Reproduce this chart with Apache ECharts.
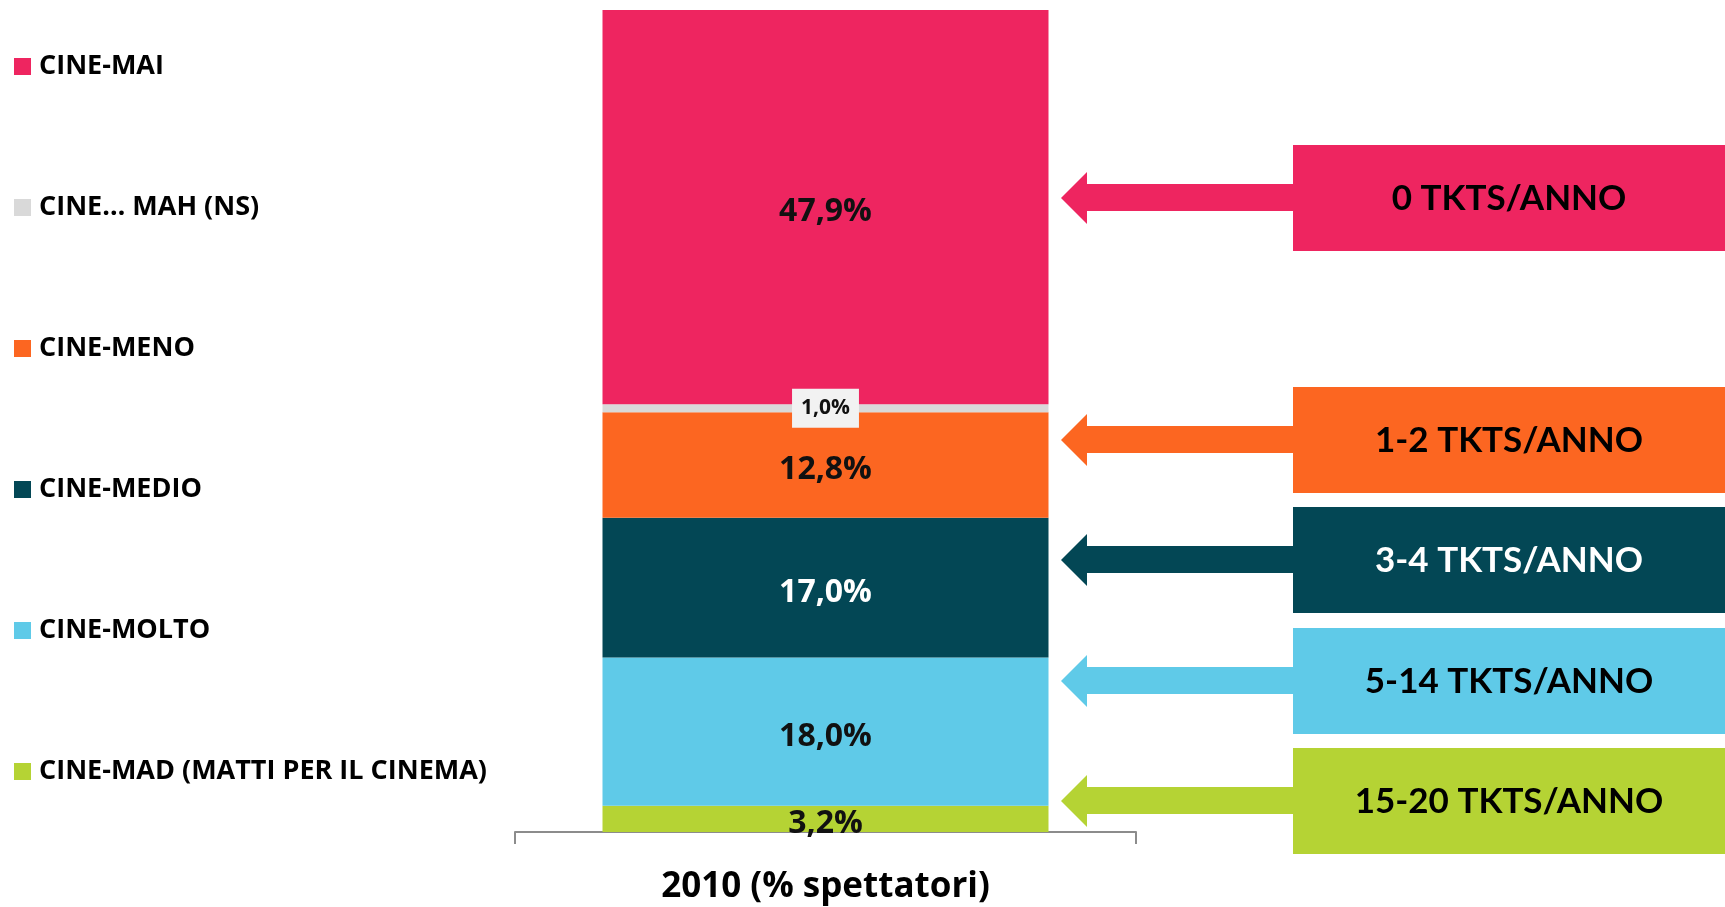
<!DOCTYPE html>
<html>
<head>
<meta charset="utf-8">
<script src="https://cdn.jsdelivr.net/npm/echarts@6/dist/echarts.min.js"></script>
<style>
  html, body { margin: 0; padding: 0; background: #fff; }
  #main { width: 1725px; height: 907px; }
</style>
</head>
<body>
<div id="main"></div>
<script>
// dati
var categories = ['2010 (% spettatori)'];
// ordine di impilamento: dal basso verso l'alto
var seriesNames = ['CINE-MAD (MATTI PER IL CINEMA)', 'CINE-MOLTO', 'CINE-MEDIO', 'CINE-MENO', 'CINE… MAH (NS)', 'CINE-MAI'];
var seriesValues = [3.2, 18.0, 17.0, 12.8, 1.0, 47.9];
var legendOrder = ['CINE-MAI', 'CINE… MAH (NS)', 'CINE-MENO', 'CINE-MEDIO', 'CINE-MOLTO', 'CINE-MAD (MATTI PER IL CINEMA)'];
var ticketLabels = ['0 TKTS/ANNO', '1-2 TKTS/ANNO', '3-4 TKTS/ANNO', '5-14 TKTS/ANNO', '15-20 TKTS/ANNO'];

var colors = ['#B5D334', '#5FCAE8', '#034755', '#FC6621', '#D9D9D9', '#EE2560'];
var labelColors = ['#111', '#111', '#fff', '#111', '#111', '#111'];

// frecce a destra (colore, testo, centro y)
var arrowColors = ['#EE2560', '#FC6621', '#034755', '#5FCAE8', '#B5D334'];
var arrowText = ['#000', '#000', '#fff', '#000', '#000'];
var arrowY = [198, 440, 560, 681, 801];

function fmt(v) {
  return v.toFixed(1).replace('.', ',') + '%';
}

var series = seriesNames.map(function (name, i) {
  var isSmall = seriesValues[i] < 2;
  return {
    name: name,
    type: 'bar',
    stack: 'tot',
    barWidth: 446,
    data: [seriesValues[i]],
    itemStyle: { color: colors[i] },
    label: {
      show: true,
      position: 'inside',
      offset: isSmall ? [0, 0] : [0, 5],
      formatter: function (p) { return fmt(p.value); },
      color: labelColors[i],
      fontFamily: 'Open Sans',
      fontWeight: 'bold',
      fontSize: isSmall ? 21 : 32,
      backgroundColor: isSmall ? '#F2F2F2' : 'transparent',
      padding: isSmall ? [9, 9] : 0
    }
  };
});

var graphic = [];
arrowY.forEach(function (cy, i) {
  graphic.push({
    type: 'group',
    x: 0,
    y: cy,
    children: [
      {
        type: 'polygon',
        shape: { points: [[1061, 0], [1087, -26], [1087, -14], [1300, -14], [1300, 13], [1087, 13], [1087, 26]] },
        style: { fill: arrowColors[i] }
      },
      {
        type: 'rect',
        shape: { x: 1293, y: -53, width: 432, height: 106 },
        style: { fill: arrowColors[i] }
      },
      {
        type: 'text',
        x: 1509,
        y: 1,
        style: {
          text: ticketLabels[i],
          fill: arrowText[i],
          font: 'bold 35px Lato',
          align: 'center',
          verticalAlign: 'middle'
        }
      }
    ]
  });
});

var option = {
  backgroundColor: '#fff',
  animation: false,
  legend: {
    data: legendOrder,
    orient: 'vertical',
    left: 14,
    top: 53,
    padding: 0,
    itemWidth: 17,
    itemHeight: 17,
    itemGap: 114,
    icon: 'rect',
    textStyle: {
      fontFamily: 'Open Sans',
      fontWeight: 'bold',
      fontSize: 27,
      lineHeight: 27,
      padding: [0, 0, 0, 3],
      color: '#000'
    }
  },
  grid: {
    left: 515,
    top: 10,
    width: 621,
    height: 822
  },
  xAxis: {
    type: 'category',
    data: categories,
    axisLine: { lineStyle: { color: '#8C8C8C', width: 2 } },
    axisTick: { show: true, length: 12, lineStyle: { color: '#8C8C8C', width: 2 } },
    axisLabel: {
      margin: 38,
      fontFamily: 'Open Sans',
      fontWeight: 'bold',
      fontSize: 35,
      color: '#000'
    }
  },
  yAxis: {
    type: 'value',
    min: 0,
    max: 99.9,
    show: false
  },
  series: series,
  graphic: graphic
};

var chart = echarts.init(document.getElementById('main'));
chart.setOption(option);
</script>
</body>
</html>
